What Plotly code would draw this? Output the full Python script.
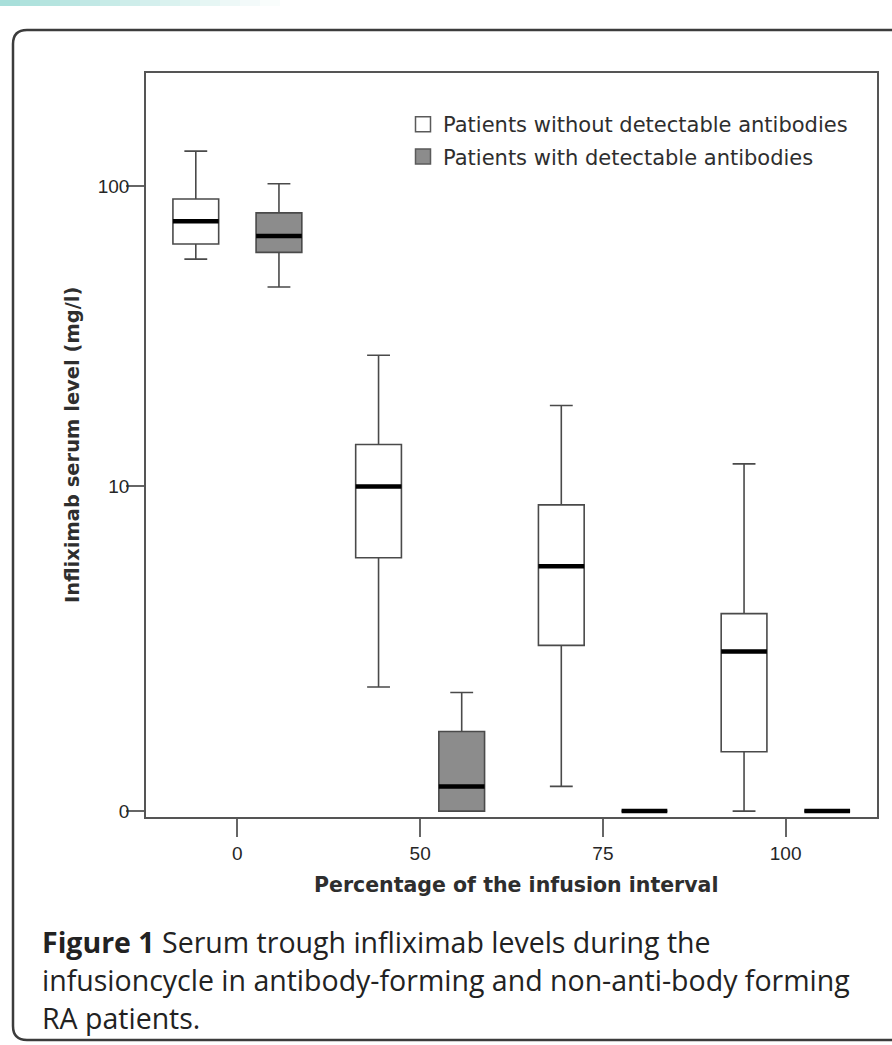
import numpy as np
import plotly.graph_objects as go

# Percentage of the infusion interval (categories on the x axis)
categories = ["0", "50", "75", "100"]

# Box statistics (mg/l) for patients without detectable antibodies
without_lower = [58, 1.5, 0.2, 0.0]
without_q1 = [65, 5.5, 2.4, 0.55]
without_median = [77, 10.0, 5.1, 2.25]
without_q3 = [91, 14.0, 8.6, 3.3]
without_upper = [130, 28.0, 19.0, 12.0]

# Box statistics (mg/l) for patients with detectable antibodies
with_lower = [47, 0.0, 0.0, 0.0]
with_q1 = [61, 0.0, 0.0, 0.0]
with_median = [69, 0.2, 0.0, 0.0]
with_q3 = [82, 0.8, 0.0, 0.0]
with_upper = [102, 1.4, 0.0, 0.0]

y_tick_values = [0, 10, 100]


def tr(v):
    """log10(x + 1) transform used for the y axis."""
    return np.log10(np.asarray(v, dtype=float) + 1.0)


W, H = 892, 1045
L, R, T, B = 146, 15, 73, 228
PW, PH = W - L - R, H - T - B


def px(xp):
    return (xp - L) / PW


def py(yp):
    return (H - B - yp) / PH


AX = "#555555"
SANS = "Liberation Sans, Arial, sans-serif"
WIDE = "DejaVu Sans, sans-serif"
TXT = "#2e2e2e"

fig = go.Figure()

series = [
    ("Patients without detectable antibodies", "white", "g1",
     without_lower, without_q1, without_median, without_q3, without_upper),
    ("Patients with detectable antibodies", "#8c8c8c", "g2",
     with_lower, with_q1, with_median, with_q3, with_upper),
]

for name, fill, grp, lo, q1, med, q3, hi in series:
    fig.add_trace(go.Box(
        name=name, x=categories,
        lowerfence=tr(lo), q1=tr(q1), median=tr(med), q3=tr(q3), upperfence=tr(hi),
        fillcolor=fill, line=dict(color="#4a4a4a", width=1.6),
        whiskerwidth=0.5, boxpoints=False,
        offsetgroup=grp, legendgroup=grp, showlegend=False,
    ))

# Heavy median bars drawn on top of each box
for name, fill, grp, lo, q1, med, q3, hi in series:
    m = tr(med)
    fig.add_trace(go.Box(
        name=name + " median", x=categories,
        lowerfence=m, q1=m, median=m, q3=m, upperfence=m,
        fillcolor="rgba(0,0,0,0)", line=dict(color="black", width=4.5),
        whiskerwidth=0, boxpoints=False,
        offsetgroup=grp, showlegend=False, hoverinfo="skip",
    ))

# Legend entries with square swatches in each series' fill
for name, fill, grp, *_ in series:
    fig.add_trace(go.Scatter(
        x=[None], y=[None], mode="markers", name=name, legendgroup=grp,
        marker=dict(symbol="square", size=15, color=fill,
                    line=dict(color="#5a5a5a", width=1.5)),
        showlegend=True, hoverinfo="skip",
    ))

fig.update_layout(
    width=W, height=H,
    margin=dict(l=L, r=R, t=T, b=B),
    paper_bgcolor="white", plot_bgcolor="white",
    boxmode="group", boxgap=0.09, boxgroupgap=0.45,
    font=dict(family=SANS, color=TXT),
    legend=dict(
        x=px(403), y=py(104), xanchor="left", yanchor="top",
        bgcolor="rgba(0,0,0,0)", font=dict(family=WIDE, size=21, color=TXT),
        traceorder="grouped", tracegroupgap=2, itemsizing="trace",
    ),
    showlegend=True,
)

fig.update_xaxes(
    type="category", categoryorder="array", categoryarray=categories,
    range=[-0.5, 3.5],
    showline=True, linecolor=AX, linewidth=1.6, mirror=True,
    ticks="outside", ticklen=18, tickcolor="#666666", tickwidth=1.5,
    tickfont=dict(family=SANS, size=19, color="#262626"),
    showgrid=False, zeroline=False,
)
fig.update_yaxes(
    range=[-0.019, 2.368],
    tickvals=tr(y_tick_values).tolist(), ticktext=[str(v) for v in y_tick_values],
    showline=True, linecolor=AX, linewidth=1.6, mirror=True,
    ticks="outside", ticklen=18, tickcolor="#666666", tickwidth=1.5,
    ticklabelstandoff=-7,
    tickfont=dict(family=SANS, size=19, color="#262626"),
    showgrid=False, zeroline=False,
)

annotations = [
    dict(text="<b>Infliximab serum level (mg/l)</b>", x=px(72), y=py(445),
         textangle=-90, xanchor="center", yanchor="middle", showarrow=False,
         font=dict(family=WIDE, size=19.5, color=TXT)),
    dict(text="<b>Percentage of the infusion interval</b>", x=px(516), y=py(885),
         xanchor="center", yanchor="middle", showarrow=False,
         font=dict(family=WIDE, size=20.5, color=TXT)),
]
caption = [
    "<b>Figure 1</b> Serum trough infliximab levels during the",
    "infusioncycle in antibody-forming and non-anti-body forming",
    "RA patients.",
]
for i, line in enumerate(caption):
    annotations.append(dict(
        text=line, x=px(40), y=py(942 + i * 38), xanchor="left", yanchor="middle",
        showarrow=False, font=dict(family="Open Sans, sans-serif", size=28.5, color="#222222"),
    ))
for a in annotations:
    a.update(xref="paper", yref="paper")
fig.update_layout(annotations=annotations)

# Rounded outer frame around figure and caption
x0, xr = px(13), px(905)
yt, yb = py(30), py(1040)
rx, ry = 14 / PW, 14 / PH
path = (f"M {xr},{yt} L {x0 + rx},{yt} Q {x0},{yt} {x0},{yt - ry} "
        f"L {x0},{yb + ry} Q {x0},{yb} {x0 + rx},{yb} L {xr},{yb}")
shapes = [dict(type="path", path=path, xref="paper", yref="paper",
               line=dict(color="#3c3c3c", width=2.5), layer="above")]

# Faint teal strip along the top-left edge
n = 14
for i in range(n):
    shapes.append(dict(
        type="rect", xref="paper", yref="paper",
        x0=px(i * 20), x1=px((i + 1) * 20), y0=py(6), y1=py(0),
        line=dict(width=0), fillcolor="#9fdcd6", opacity=0.9 * (1 - i / n),
    ))
fig.update_layout(shapes=shapes)

fig.write_html("out.html")
